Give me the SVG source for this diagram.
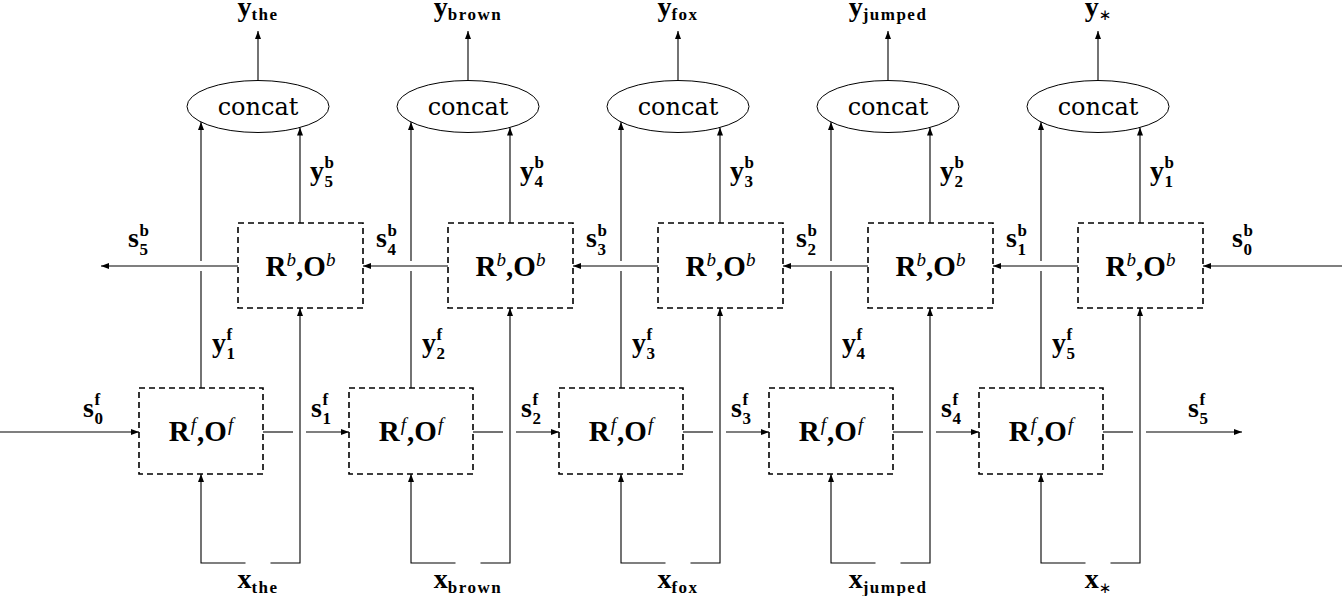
<svg xmlns="http://www.w3.org/2000/svg" width="1342" height="596" viewBox="0 0 1342 596">
<style>
.box{fill:none;stroke:#000;stroke-width:1.6;stroke-dasharray:6 4}
.ell{fill:none;stroke:#000;stroke-width:1}
.ln{fill:none;stroke:#000;stroke-width:1.1}
.arr{marker-end:url(#ah)}
.lb{font-family:"Liberation Serif","Times New Roman",serif;font-weight:bold;font-size:28px}
.ro{font-family:"Liberation Serif","Times New Roman",serif;font-weight:bold;font-size:29px}
.sm{font-family:"Liberation Serif","Times New Roman",serif;font-weight:bold;font-size:17px}
.ss{font-family:"Liberation Serif","Times New Roman",serif;font-weight:bold;font-size:17px;letter-spacing:1.5px}
.it{font-family:"Liberation Serif","Times New Roman",serif;font-style:italic;font-weight:normal;font-size:19px}
.rm{font-family:"DejaVu Serif","Liberation Serif",serif;font-weight:normal;font-size:24px}
.ast{font-family:"DejaVu Sans",sans-serif;font-weight:normal;font-size:15px}
</style>
<defs>
<marker id="ah" viewBox="0 0 8 6" refX="8" refY="3" markerWidth="8" markerHeight="6" markerUnits="userSpaceOnUse" orient="auto"><path d="M0,0 L8,3 L0,6 z" fill="#000"/></marker>
</defs>

<g id="connectors">
<path class="ln" d="M201 388V271"/><path class="ln arr" d="M201 261V122"/>
<path class="ln" d="M411 388V271"/><path class="ln arr" d="M411 261V122"/>
<path class="ln" d="M621 388V271"/><path class="ln arr" d="M621 261V122"/>
<path class="ln" d="M831 388V271"/><path class="ln arr" d="M831 261V122"/>
<path class="ln" d="M1041 388V271"/><path class="ln arr" d="M1041 261V122"/>
<path class="ln arr" d="M300 223V127.5"/>
<path class="ln arr" d="M510 223V127.5"/>
<path class="ln arr" d="M720 223V127.5"/>
<path class="ln arr" d="M930 223V127.5"/>
<path class="ln arr" d="M1140 223V127.5"/>
<path class="ln arr" d="M258 80.5V31"/>
<path class="ln arr" d="M468 80.5V31"/>
<path class="ln arr" d="M678 80.5V31"/>
<path class="ln arr" d="M888 80.5V31"/>
<path class="ln arr" d="M1098 80.5V31"/>
<path class="ln arr" d="M245.5 563H201V474"/><path class="ln arr" d="M270.5 563H300V308"/>
<path class="ln arr" d="M455.5 563H411V474"/><path class="ln arr" d="M480.5 563H510V308"/>
<path class="ln arr" d="M665.5 563H621V474"/><path class="ln arr" d="M690.5 563H720V308"/>
<path class="ln arr" d="M875.5 563H831V474"/><path class="ln arr" d="M900.5 563H930V308"/>
<path class="ln arr" d="M1085.5 563H1041V474"/><path class="ln arr" d="M1110.5 563H1140V308"/>
<path class="ln arr" d="M0 432H139"/>
<path class="ln" d="M263 432H293"/><path class="ln arr" d="M306 432H349"/>
<path class="ln" d="M473 432H503"/><path class="ln arr" d="M516 432H559"/>
<path class="ln" d="M683 432H713"/><path class="ln arr" d="M726 432H769"/>
<path class="ln" d="M893 432H923"/><path class="ln arr" d="M936 432H979"/>
<path class="ln" d="M1103 432H1133"/><path class="ln arr" d="M1146 432H1242"/>
<path class="ln arr" d="M1342 266H1203"/>
<path class="ln arr" d="M1078 266H993"/>
<path class="ln arr" d="M868 266H783"/>
<path class="ln arr" d="M658 266H573"/>
<path class="ln arr" d="M448 266H363"/>
<path class="ln arr" d="M238 266H101"/>
</g>

<g id="fwd1"><rect class="box" x="139" y="388" width="124" height="86"/><text class="ro" x="201" y="441" text-anchor="middle">R<tspan class="it" dy="-10" dx="1">f</tspan><tspan dy="10" dx="1">,O</tspan><tspan class="it" dy="-10" dx="1">f</tspan></text></g>
<g id="fwd2"><rect class="box" x="349" y="388" width="124" height="86"/><text class="ro" x="411" y="441" text-anchor="middle">R<tspan class="it" dy="-10" dx="1">f</tspan><tspan dy="10" dx="1">,O</tspan><tspan class="it" dy="-10" dx="1">f</tspan></text></g>
<g id="fwd3"><rect class="box" x="559" y="388" width="124" height="86"/><text class="ro" x="621" y="441" text-anchor="middle">R<tspan class="it" dy="-10" dx="1">f</tspan><tspan dy="10" dx="1">,O</tspan><tspan class="it" dy="-10" dx="1">f</tspan></text></g>
<g id="fwd4"><rect class="box" x="769" y="388" width="124" height="86"/><text class="ro" x="831" y="441" text-anchor="middle">R<tspan class="it" dy="-10" dx="1">f</tspan><tspan dy="10" dx="1">,O</tspan><tspan class="it" dy="-10" dx="1">f</tspan></text></g>
<g id="fwd5"><rect class="box" x="979" y="388" width="124" height="86"/><text class="ro" x="1041" y="441" text-anchor="middle">R<tspan class="it" dy="-10" dx="1">f</tspan><tspan dy="10" dx="1">,O</tspan><tspan class="it" dy="-10" dx="1">f</tspan></text></g>

<g id="bwd1"><rect class="box" x="238" y="223" width="125" height="85"/><text class="ro" x="300.5" y="276" text-anchor="middle">R<tspan class="it" dy="-10">b</tspan><tspan dy="10">,O</tspan><tspan class="it" dy="-10">b</tspan></text></g>
<g id="bwd2"><rect class="box" x="448" y="223" width="125" height="85"/><text class="ro" x="510.5" y="276" text-anchor="middle">R<tspan class="it" dy="-10">b</tspan><tspan dy="10">,O</tspan><tspan class="it" dy="-10">b</tspan></text></g>
<g id="bwd3"><rect class="box" x="658" y="223" width="125" height="85"/><text class="ro" x="720.5" y="276" text-anchor="middle">R<tspan class="it" dy="-10">b</tspan><tspan dy="10">,O</tspan><tspan class="it" dy="-10">b</tspan></text></g>
<g id="bwd4"><rect class="box" x="868" y="223" width="125" height="85"/><text class="ro" x="930.5" y="276" text-anchor="middle">R<tspan class="it" dy="-10">b</tspan><tspan dy="10">,O</tspan><tspan class="it" dy="-10">b</tspan></text></g>
<g id="bwd5"><rect class="box" x="1078" y="223" width="125" height="85"/><text class="ro" x="1140.5" y="276" text-anchor="middle">R<tspan class="it" dy="-10">b</tspan><tspan dy="10">,O</tspan><tspan class="it" dy="-10">b</tspan></text></g>

<g id="concat1"><ellipse class="ell" cx="258" cy="106.5" rx="71" ry="26"/><text class="rm" x="258" y="115" text-anchor="middle">concat</text></g>
<g id="concat2"><ellipse class="ell" cx="468" cy="106.5" rx="71" ry="26"/><text class="rm" x="468" y="115" text-anchor="middle">concat</text></g>
<g id="concat3"><ellipse class="ell" cx="678" cy="106.5" rx="71" ry="26"/><text class="rm" x="678" y="115" text-anchor="middle">concat</text></g>
<g id="concat4"><ellipse class="ell" cx="888" cy="106.5" rx="71" ry="26"/><text class="rm" x="888" y="115" text-anchor="middle">concat</text></g>
<g id="concat5"><ellipse class="ell" cx="1098" cy="106.5" rx="71" ry="26"/><text class="rm" x="1098" y="115" text-anchor="middle">concat</text></g>

<g id="outputs">
<text class="lb" x="258" y="16" text-anchor="middle">y<tspan class="ss" dy="4">the</tspan></text>
<text class="lb" x="468" y="16" text-anchor="middle">y<tspan class="ss" dy="4">brown</tspan></text>
<text class="lb" x="678" y="16" text-anchor="middle">y<tspan class="ss" dy="4">fox</tspan></text>
<text class="lb" x="888" y="16" text-anchor="middle">y<tspan class="ss" dy="4">jumped</tspan></text>
<text class="lb" x="1098" y="16" text-anchor="middle">y<tspan class="ast" dy="4">∗</tspan></text>
</g>
<g id="inputs">
<text class="lb" x="258" y="588" text-anchor="middle">x<tspan class="ss" dy="5">the</tspan></text>
<text class="lb" x="468" y="588" text-anchor="middle">x<tspan class="ss" dy="5">brown</tspan></text>
<text class="lb" x="678" y="588" text-anchor="middle">x<tspan class="ss" dy="5">fox</tspan></text>
<text class="lb" x="888" y="588" text-anchor="middle">x<tspan class="ss" dy="5">jumped</tspan></text>
<text class="lb" x="1098" y="588" text-anchor="middle">x<tspan class="ast" dy="5">∗</tspan></text>
</g>

<g id="state-labels-b">
<text class="lb" x="128" y="247">s</text><text class="sm" x="139.5" y="236">b</text><text class="sm" x="139.5" y="255">5</text>
<text class="lb" x="376" y="247">s</text><text class="sm" x="387.5" y="236">b</text><text class="sm" x="387.5" y="255">4</text>
<text class="lb" x="586" y="247">s</text><text class="sm" x="597.5" y="236">b</text><text class="sm" x="597.5" y="255">3</text>
<text class="lb" x="796" y="247">s</text><text class="sm" x="807.5" y="236">b</text><text class="sm" x="807.5" y="255">2</text>
<text class="lb" x="1006" y="247">s</text><text class="sm" x="1017.5" y="236">b</text><text class="sm" x="1017.5" y="255">1</text>
<text class="lb" x="1232" y="247">s</text><text class="sm" x="1243.5" y="236">b</text><text class="sm" x="1243.5" y="255">0</text>
</g>
<g id="state-labels-f">
<text class="lb" x="83" y="417">s</text><text class="sm" x="94.5" y="405">f</text><text class="sm" x="94.5" y="424">0</text>
<text class="lb" x="311" y="417">s</text><text class="sm" x="322.5" y="405">f</text><text class="sm" x="322.5" y="424">1</text>
<text class="lb" x="521" y="417">s</text><text class="sm" x="532.5" y="405">f</text><text class="sm" x="532.5" y="424">2</text>
<text class="lb" x="731" y="417">s</text><text class="sm" x="742.5" y="405">f</text><text class="sm" x="742.5" y="424">3</text>
<text class="lb" x="941" y="417">s</text><text class="sm" x="952.5" y="405">f</text><text class="sm" x="952.5" y="424">4</text>
<text class="lb" x="1188" y="417">s</text><text class="sm" x="1199.5" y="405">f</text><text class="sm" x="1199.5" y="424">5</text>
</g>
<g id="output-labels-f">
<text class="lb" x="212" y="352">y</text><text class="sm" x="226.5" y="340">f</text><text class="sm" x="226.5" y="359">1</text>
<text class="lb" x="422" y="352">y</text><text class="sm" x="436.5" y="340">f</text><text class="sm" x="436.5" y="359">2</text>
<text class="lb" x="632" y="352">y</text><text class="sm" x="646.5" y="340">f</text><text class="sm" x="646.5" y="359">3</text>
<text class="lb" x="842" y="352">y</text><text class="sm" x="856.5" y="340">f</text><text class="sm" x="856.5" y="359">4</text>
<text class="lb" x="1052" y="352">y</text><text class="sm" x="1066.5" y="340">f</text><text class="sm" x="1066.5" y="359">5</text>
</g>
<g id="output-labels-b">
<text class="lb" x="310" y="180">y</text><text class="sm" x="324.5" y="168">b</text><text class="sm" x="324.5" y="187">5</text>
<text class="lb" x="520" y="180">y</text><text class="sm" x="534.5" y="168">b</text><text class="sm" x="534.5" y="187">4</text>
<text class="lb" x="730" y="180">y</text><text class="sm" x="744.5" y="168">b</text><text class="sm" x="744.5" y="187">3</text>
<text class="lb" x="940" y="180">y</text><text class="sm" x="954.5" y="168">b</text><text class="sm" x="954.5" y="187">2</text>
<text class="lb" x="1150" y="180">y</text><text class="sm" x="1164.5" y="168">b</text><text class="sm" x="1164.5" y="187">1</text>
</g>
</svg>
